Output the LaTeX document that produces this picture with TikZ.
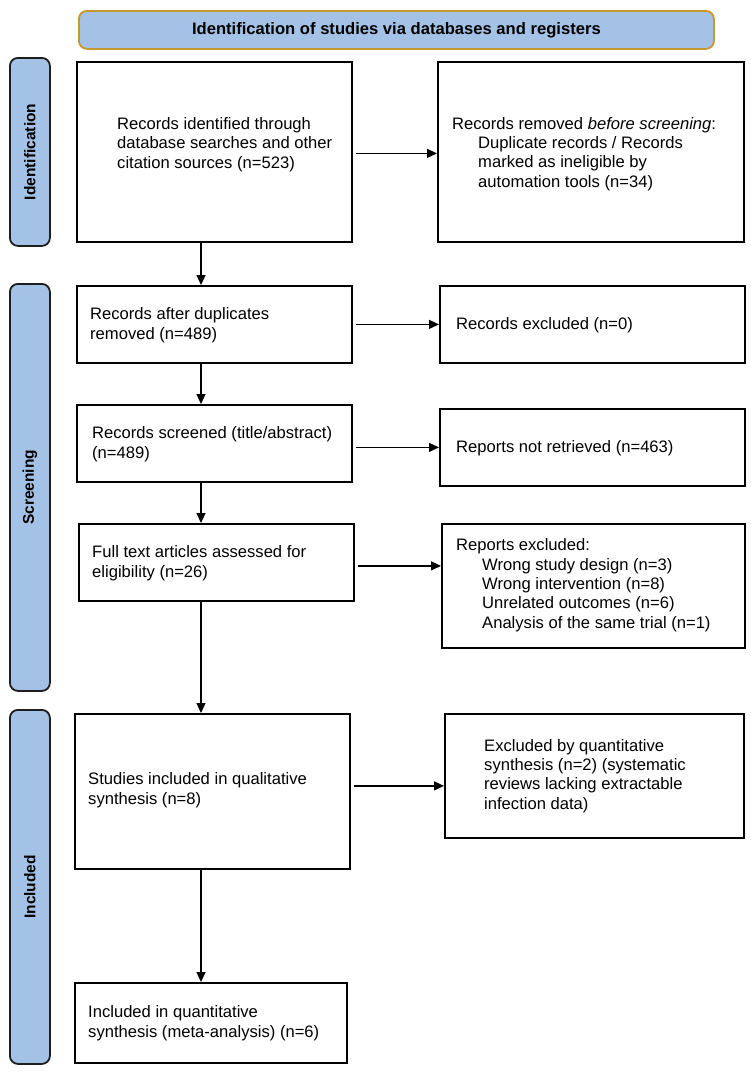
\documentclass[tikz,border=0pt]{standalone}
\usepackage{fontspec}
\setmainfont{Liberation Sans}
\usetikzlibrary{arrows.meta}
\definecolor{sideblue}{RGB}{164,194,230}
\definecolor{goldline}{RGB}{200,150,46}
\definecolor{sideline}{RGB}{30,30,30}
\tikzset{
  box/.style={draw=black, line width=1.8pt, rectangle, inner sep=0pt, anchor=north west},
  txt/.style={inner sep=0pt, anchor=base west, align=left, font=\fontsize{16.6}{19.3}\selectfont},
  side/.style={draw=sideline, fill=sideblue, line width=1.8pt, rounded corners=8pt, rectangle, inner sep=0pt, anchor=north west},
  sidelabel/.style={rotate=90, inner sep=0pt, font=\fontsize{15.5}{18}\selectfont\bfseries},
  arr/.style={line width=1.2pt, -{Triangle[length=10pt,width=9pt]}},
}
\newcommand{\ind}{\hspace*{26pt}}
\begin{document}
\begin{tikzpicture}[x=1pt,y=-1pt]
\useasboundingbox (0,0) rectangle (750,1076);
% title
\node[draw=goldline, fill=sideblue, line width=1.8pt, rounded corners=8pt, inner sep=0pt, anchor=north west,
      minimum width=635pt, minimum height=38pt] (title) at (78,10) {};
\node[inner sep=0pt, font=\fontsize{16.6}{19}\selectfont\bfseries] (titletext) at (title.center) {Identification of studies via databases and registers};
% side bars
\node[side, minimum width=40pt, minimum height=188pt] (sid) at (9,57) {};
\node[sidelabel] (sidt) at (sid.center) {Identification};
\node[side, minimum width=40pt, minimum height=407pt] (ssc) at (9,283) {};
\node[sidelabel] (ssct) at (ssc.center) {Screening};
\node[side, minimum width=40pt, minimum height=354pt] (sin) at (9,709) {};
\node[sidelabel] (sint) at (sin.center) {Included};
% boxes
\node[box, minimum width=275pt, minimum height=180pt] (A) at (76,61) {};
\node[box, minimum width=306pt, minimum height=180pt] (B) at (437,61) {};
\node[box, minimum width=275pt, minimum height=77pt] (C) at (76,285) {};
\node[box, minimum width=305pt, minimum height=77pt] (D) at (439,285) {};
\node[box, minimum width=275pt, minimum height=77pt] (E) at (76,404) {};
\node[box, minimum width=305pt, minimum height=77pt] (F) at (439,408) {};
\node[box, minimum width=275pt, minimum height=77pt] (G) at (78,523) {};
\node[box, minimum width=303pt, minimum height=124pt] (H) at (441,523) {};
\node[box, minimum width=275pt, minimum height=155pt] (I) at (74,713) {};
\node[box, minimum width=299pt, minimum height=124pt] (J) at (444,713) {};
\node[box, minimum width=272pt, minimum height=80pt] (K) at (74,982) {};
% texts (anchored at the baseline of the last line)
\node[txt] (tA) at (117,168) {Records identified through\\database searches and other\\citation sources (n=523)};
\node[txt] (tB) at (452,187) {Records removed \textit{before screening}:\\\ind Duplicate records / Records\\\ind marked as ineligible by\\\ind automation tools (n=34)};
\node[txt] (tC) at (90,339) {Records after duplicates\\removed (n=489)};
\node[txt] (tD) at (456,329) {Records excluded (n=0)};
\node[txt] (tE) at (92,458) {Records screened (title/abstract)\\(n=489)};
\node[txt] (tF) at (456,452) {Reports not retrieved (n=463)};
\node[txt] (tG) at (92,577) {Full text articles assessed for\\eligibility (n=26)};
\node[txt] (tH) at (456,628) {Reports excluded:\\\ind Wrong study design (n=3)\\\ind Wrong intervention (n=8)\\\ind Unrelated outcomes (n=6)\\\ind Analysis of the same trial (n=1)};
\node[txt] (tI) at (88,804) {Studies included in qualitative\\synthesis (n=8)};
\node[txt] (tJ) at (484,809) {Excluded by quantitative\\synthesis (n=2) (systematic\\reviews lacking extractable\\infection data)};
\node[txt] (tK) at (88,1037) {Included in quantitative\\synthesis (meta-analysis) (n=6)};
% connectors
\coordinate (spine) at (201,0);
\draw[arr] (A.south -| spine) -- (C.north -| spine);
\draw[arr] (C.south -| spine) -- (E.north -| spine);
\draw[arr] (E.south -| spine) -- (G.north -| spine);
\draw[arr] (G.south -| spine) -- (I.north -| spine);
\draw[arr] (I.south -| spine) -- (K.north -| spine);
\draw[arr, shorten <=3pt] ([yshift=-1.5pt]A.east) -- ([yshift=-1.5pt]A.east -| B.west);
\draw[arr, shorten <=3pt] (C.east) -- (C.east -| D.west);
\draw[arr, shorten <=3pt] (E.east |- F.west) -- (F.west);
\draw[arr, shorten <=3pt] ([yshift=-3.5pt]G.east) -- ([yshift=-3.5pt]G.east -| H.west);
\draw[arr, shorten <=3pt] ([yshift=5.5pt]I.east) -- ([yshift=5.5pt]I.east -| J.west);
\end{tikzpicture}
\end{document}
